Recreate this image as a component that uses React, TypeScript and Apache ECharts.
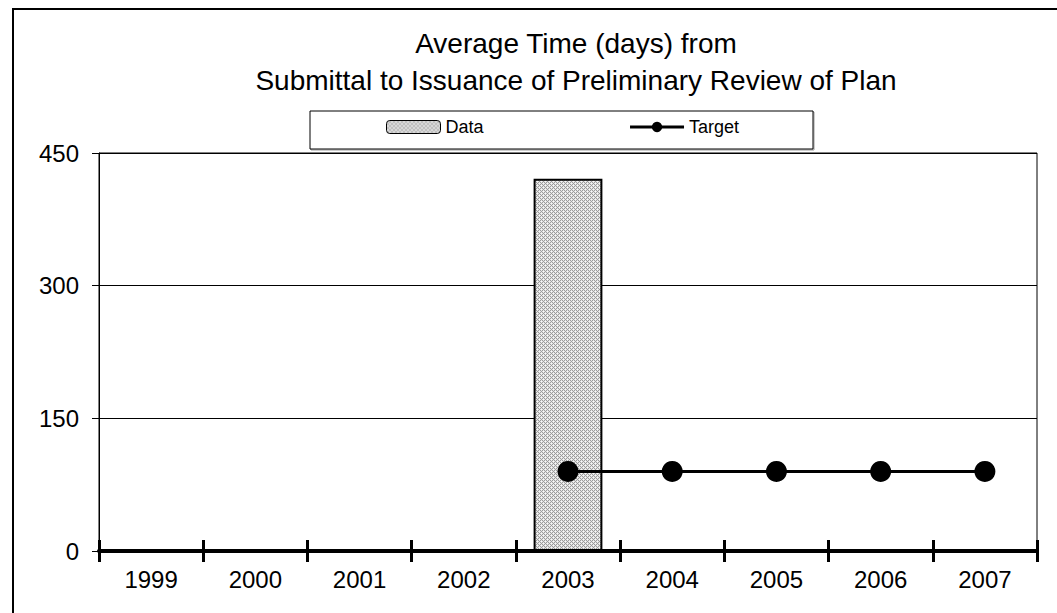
import React, { useEffect, useRef } from "react";
import * as echarts from "echarts";

// Reporting years on the category axis
const years = ["1999", "2000", "2001", "2002", "2003", "2004", "2005", "2006", "2007"];
// Average days from submittal to preliminary review (measured)
const dataValues: (number | null)[] = [null, null, null, null, 421, null, null, null, null];
// Target number of days
const targetValues: (number | null)[] = [null, null, null, null, 90, 90, 90, 90, 90];
// Value-axis tick marks
const yTicks = [0, 150, 300, 450];

const titleLines = [
  "Average Time (days) from",
  "Submittal to Issuance of Preliminary Review of Plan",
];

const FONT = "'Liberation Sans', Arial, Helvetica, sans-serif";

// Fine grey stipple used to fill the bars
function makeStipple(): HTMLCanvasElement {
  const c = document.createElement("canvas");
  c.width = 4;
  c.height = 4;
  const ctx = c.getContext("2d")!;
  ctx.fillStyle = "#e4e4e4";
  ctx.fillRect(0, 0, 4, 4);
  ctx.fillStyle = "#9c9c9c";
  for (let y = 0; y < 4; y++) {
    for (let x = 0; x < 4; x++) {
      if ((x + y) % 2 === 0) ctx.fillRect(x, y, 1, 1);
    }
  }
  ctx.fillStyle = "#f8f8f8";
  ctx.fillRect(1, 1, 1, 1);
  ctx.fillRect(3, 3, 1, 1);
  return c;
}

export default function App() {
  const ref = useRef<HTMLDivElement>(null);

  useEffect(() => {
    document.body.style.margin = "0";
    if (!ref.current) return;
    const chart = echarts.init(ref.current, undefined, { renderer: "svg" });
    const stipple = makeStipple();
    const barFill: any = { image: stipple, repeat: "repeat", imageWidth: 4, imageHeight: 4 };

    const yMin = yTicks[0];
    const yMax = yTicks[yTicks.length - 1];
    const yStep = yTicks[1] - yTicks[0];

    chart.setOption({
      animation: false,
      backgroundColor: "#ffffff",
      textStyle: { fontFamily: FONT, color: "#000" },
      title: {
        text: titleLines.join("\n"),
        left: 571,
        textAlign: "center",
        top: 20,
        textStyle: {
          fontFamily: FONT,
          fontSize: 28,
          fontWeight: "normal",
          color: "#000",
          lineHeight: 37,
        },
      },
      graphic: [
        {
          type: "rect",
          silent: true,
          shape: { x: 13, y: 9, width: 1080, height: 640 },
          style: { fill: "none", stroke: "#000", lineWidth: 2 },
        },
        {
          type: "rect",
          silent: true,
          shape: { x: 311, y: 112, width: 503, height: 38 },
          style: { fill: "none", stroke: "#9a9a9a", lineWidth: 1 },
        },
        {
          type: "rect",
          silent: true,
          shape: { x: 310, y: 111, width: 503, height: 38 },
          style: { fill: "#fff", stroke: "#000", lineWidth: 1 },
        },
      ],
      legend: {
        left: 386,
        top: 118,
        padding: 0,
        itemWidth: 54,
        itemHeight: 13,
        itemGap: 145,
        textStyle: { fontFamily: FONT, fontSize: 18, color: "#000" },
        data: [
          { name: "Data", itemStyle: { borderWidth: 1, borderColor: "#000" } },
          { name: "Target", lineStyle: { width: 3 } },
        ],
      },
      grid: {
        left: 99,
        top: 153,
        right: 20,
        bottom: 62,
        show: true,
        borderColor: "#000",
        borderWidth: 1,
      },
      xAxis: [
        {
          type: "category",
          data: years,
          position: "bottom",
          axisLine: { show: true, lineStyle: { color: "#000", width: 4 } },
          axisTick: { show: true, inside: false, length: 11, lineStyle: { color: "#000", width: 3 } },
          axisLabel: { fontFamily: FONT, fontSize: 24, color: "#000", margin: 16 },
          splitLine: { show: false },
        },
        {
          type: "category",
          data: years,
          position: "bottom",
          offset: 0,
          axisLine: { show: false },
          axisTick: { show: true, inside: true, length: 11, lineStyle: { color: "#000", width: 3 } },
          axisLabel: { show: false },
          splitLine: { show: false },
        },
      ],
      yAxis: {
        type: "value",
        min: yMin,
        max: yMax,
        interval: yStep,
        axisLine: { show: true, lineStyle: { color: "#000", width: 1 } },
        axisTick: { show: true, length: 7, lineStyle: { color: "#000", width: 1 } },
        axisLabel: { fontFamily: FONT, fontSize: 24, color: "#000", margin: 20 },
        splitLine: { show: true, lineStyle: { color: "#000", width: 1 } },
      },
      series: [
        {
          name: "Data",
          type: "bar",
          xAxisIndex: 0,
          data: dataValues,
          barWidth: "66%",
          itemStyle: { color: barFill, borderColor: "#000", borderWidth: 2 },
          z: 2,
        },
        {
          name: "Target",
          type: "line",
          xAxisIndex: 0,
          data: targetValues,
          symbol: "circle",
          symbolSize: 21,
          lineStyle: { color: "#000", width: 3 },
          itemStyle: { color: "#000" },
          z: 3,
        },
      ],
    });

    return () => {
      chart.dispose();
    };
  }, []);

  return <div ref={ref} style={{ width: 1057, height: 613 }} />;
}
